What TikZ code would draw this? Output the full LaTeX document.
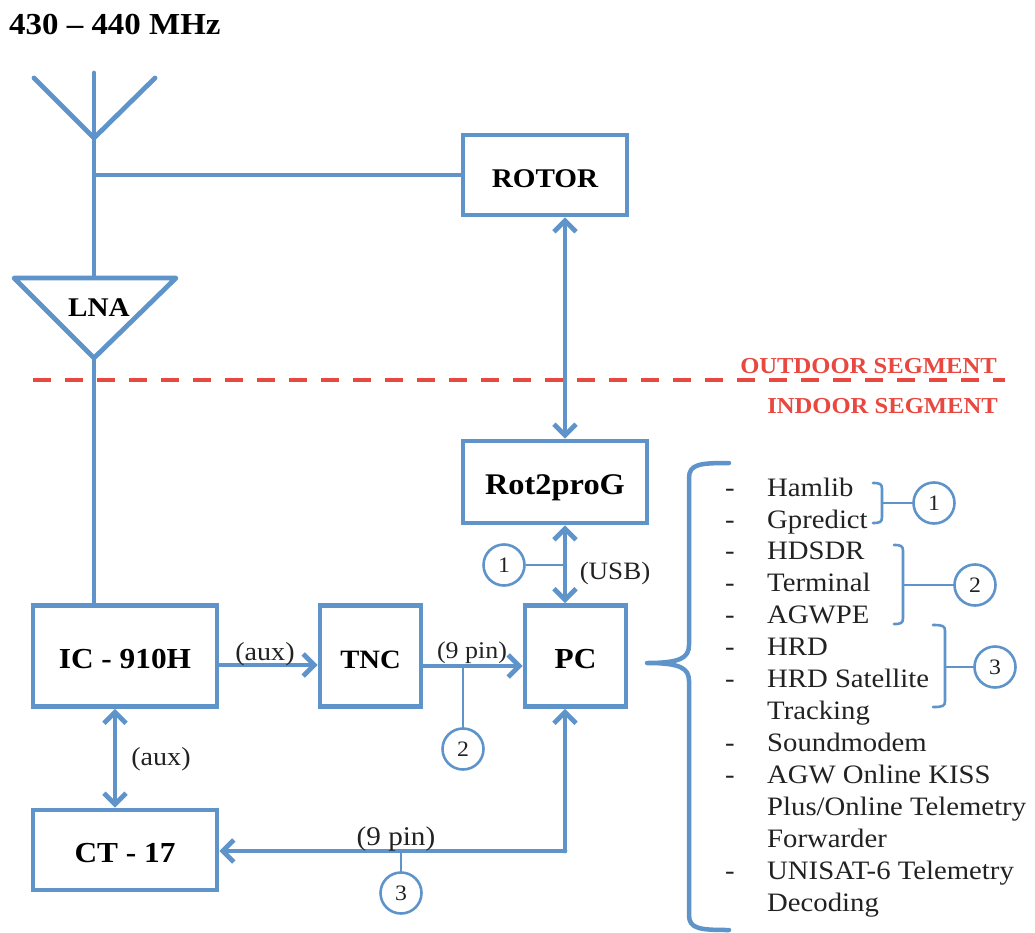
\documentclass[tikz,border=0pt]{standalone}
\usepackage{fontspec}
\setmainfont[FakeStretch=1.08]{Liberation Serif}
\usetikzlibrary{arrows.meta,calc}
\definecolor{lineblue}{HTML}{5F94CB}
\definecolor{segred}{HTML}{E8483F}
\definecolor{inkdark}{HTML}{222222}
\tikzset{
  thick line/.style={draw=lineblue,line width=4.8pt},
  thin line/.style={draw=lineblue,line width=2.6pt},
  tipboth/.style={{Straight Barb[length=11pt,width=22pt,line width=4.8pt]}-{Straight Barb[length=11pt,width=22pt,line width=4.8pt]}},
  tipend/.style={-{Straight Barb[length=11pt,width=22pt,line width=4.8pt]}},
  blockbox/.style={thick line,fill=white,rectangle,inner sep=0pt,outer sep=2.4pt,text=black,font=\fontsize{#1}{32}\selectfont\bfseries,align=center},
  blockbox/.default=29,
  tagcircle/.style={thin line,fill=white,circle,minimum size=41pt,inner sep=0pt,outer sep=1pt,text=inkdark,font=\fontsize{22}{24}\selectfont},
  listtext/.style={anchor=base west,inner sep=0pt,text=inkdark,font=\fontsize{26.6}{30}\selectfont},
  smalllabel/.style={anchor=base,inner sep=0pt,text=inkdark,font=\fontsize{#1}{28}\selectfont},
  smalllabel/.default=26,
  segtext/.style={anchor=base east,inner sep=0pt,text=segred,font=\fontsize{22.8}{28}\selectfont\bfseries},
}
\newcommand{\lowered}[1]{\raisebox{-12.5pt}[0pt][0pt]{#1}}
\begin{document}
\begin{tikzpicture}[x=1pt,y=-1pt]
\useasboundingbox (0,0) rectangle (1035,933);
\fill[white] (0,0) rectangle (1035,933);
% title
\node[anchor=base west,inner sep=0pt,text=black,font=\fontsize{30.5}{32}\selectfont\bfseries] (title) at (9,35) {430 – 440 MHz};
% coordinates
\coordinate (anttop) at (94,73);
\coordinate (antfeed) at (94,138);
\coordinate (antl) at (34,78);
\coordinate (antr) at (155,78);
\coordinate (lnal) at (14,278);
\coordinate (lnar) at (176,278);
\coordinate (lnat) at (94,278);
\coordinate (lnab) at (94,358);
\coordinate (bus) at (565,0);
\coordinate (segl) at (33,380);
\coordinate (segr) at (1005,380);
% blocks
\node[blockbox=27,minimum width=164pt,minimum height=80pt] (rotor) at (545,175) {\lowered{ROTOR}};
\node[blockbox=30,minimum width=184pt,minimum height=82pt] (rot) at (555,482) {\lowered{Rot2proG}};
\node[blockbox,minimum width=184pt,minimum height=101pt] (ic) at (125,656) {\lowered{IC - 910H}};
\node[blockbox=26.5,minimum width=101pt,minimum height=101pt] (tnc) at (370.5,656) {\lowered{TNC}};
\node[blockbox,minimum width=101pt,minimum height=101pt] (pc) at (575.5,656) {\lowered{PC}};
\node[blockbox,minimum width=184pt,minimum height=80pt] (ct) at (125,850) {\lowered{CT - 17}};
% antenna and LNA
\draw[thick line,line cap=round] (antl) -- (antfeed) -- (antr);
\draw[thick line,line cap=round] (anttop) -- (lnat);
\draw[thick line] (antfeed |- rotor.west) -- (rotor.west);
\draw[thick line,line join=round,fill=white] (lnal) -- (lnar) -- (lnab) -- cycle;
\node[inner sep=0pt,anchor=base,text=black,font=\fontsize{27}{30}\selectfont\bfseries] (lna) at (99,316) {LNA};
\draw[thick line] (lnab) -- (lnab |- ic.north);
% segment line
\draw[draw=segred,line width=4.5pt,dash pattern=on 18pt off 14pt] (segl) -- (segr);
\node[segtext] (outdoor) at (997,373) {OUTDOOR SEGMENT};
\node[segtext] (indoor) at (998,413) {INDOOR SEGMENT};
% connectors
\draw[thick line,tipboth] (bus |- rotor.south) -- (bus |- rot.north);
\draw[thick line,tipboth] (bus |- rot.south) -- (bus |- pc.north);
\coordinate (icout) at (ic.east |- 0,665);
\draw[thick line,tipend] (icout) -- (tnc.west |- icout);
\coordinate (tncout) at (tnc.east |- 0,666);
\draw[thick line,tipend] (tncout) -- (pc.west |- tncout);
\coordinate (mid) at (115,0);
\draw[thick line,tipboth] (mid |- ic.south) -- (mid |- ct.north);
\coordinate (buscorner) at (565,851);
\draw[thick line,tipend,line cap=round] (buscorner) -- (bus |- pc.south);
\draw[thick line,tipend,line cap=round] (buscorner) -- (ct.east |- buscorner);
% numbered tags
\node[tagcircle] (t1) at (504,565) {1};
\node[tagcircle] (t2) at (463,749) {2};
\node[tagcircle] (t3) at (401,893) {3};
\draw[thin line] (t1.east) -- (bus |- t1.east);
\draw[thin line] (t2.north) -- (t2.north |- tncout);
\draw[thin line] (t3.north) -- (t3.north |- buscorner);
% labels
\node[smalllabel] (l1) at (265,660) {(aux)};
\node[smalllabel=24] (l2) at (472,658) {(9 pin)};
\node[smalllabel=27] (l3) at (396,845) {(9 pin)};
\node[smalllabel=25] (l4) at (615,579) {(USB)};
\node[smalllabel] (l5) at (161,765) {(aux)};
% big brace
\coordinate (bracetop) at (729,463);
\coordinate (bracebot) at (729,930);
\coordinate (bracetip) at (647,663);
\draw[draw=lineblue,line width=4.5pt,line cap=round,line join=round] (bracetop)
  .. controls (700,463) and (689,464) .. (689,478)
  -- (689,645) .. controls (689,658) and (680,663) .. (bracetip)
  .. controls (680,663) and (689,668) .. (689,681)
  -- (689,915) .. controls (689,929) and (700,930) .. (bracebot);
% list
\foreach \n/\y/\t in {a/496/Hamlib,b/528/Gpredict,c/559/HDSDR,d/591/Terminal,e/623/AGWPE,f/655/HRD,g/687/HRD Satellite,h/719/Tracking,i/751/Soundmodem,j/783/AGW Online KISS,k/815/Plus\slash Online Telemetry,m/847/Forwarder,n/879/UNISAT-6 Telemetry,o/911/Decoding}
  \node[listtext] (item\n) at (767,\y) {\t};
\foreach \n/\y in {a/496,b/528,c/559,d/591,e/623,f/655,g/687,i/751,j/783,n/879}
  \node[listtext] (dash\n) at (725,\y) {-};
% small brackets
\node[tagcircle] (s1) at (934,503) {1};
\node[tagcircle] (s2) at (975,585) {2};
\node[tagcircle] (s3) at (995,667) {3};
\draw[thin line,line cap=round] (873,483) .. controls (880,483) and (882,484) .. (882,489) -- (882,517) .. controls (882,522) and (880,523) .. (873,523);
\draw[thin line,line cap=round] (894,545) .. controls (901,545) and (903,546) .. (903,551) -- (903,618) .. controls (903,623) and (901,624) .. (894,624);
\draw[thin line,line cap=round] (933,625) .. controls (943,625) and (945,626) .. (945,631) -- (945,701) .. controls (945,706) and (943,707) .. (933,707);
\draw[thin line] (s1.west) -- (882,503);
\draw[thin line] (s2.west) -- (903,585);
\draw[thin line] (s3.west) -- (945,667);
\end{tikzpicture}
\end{document}
